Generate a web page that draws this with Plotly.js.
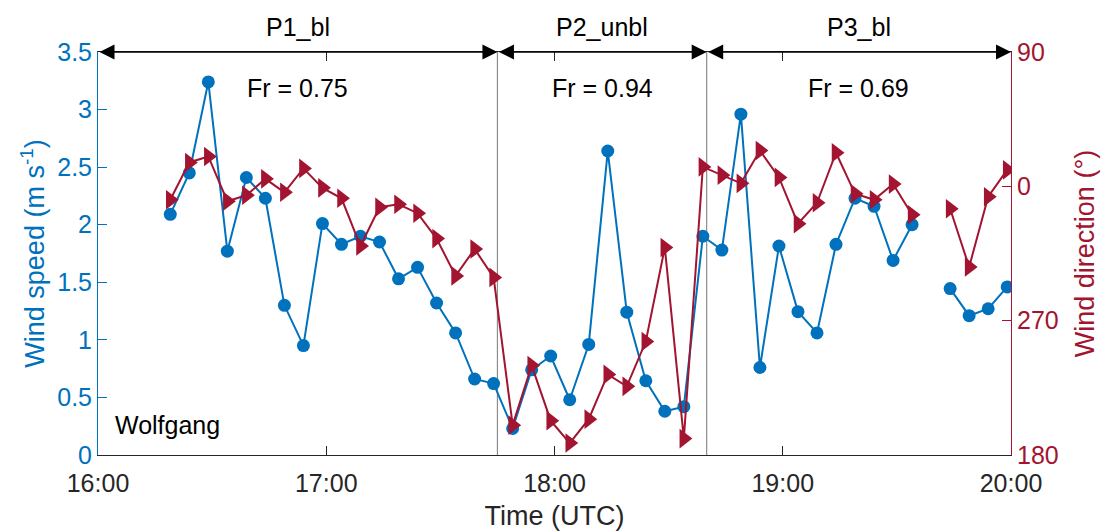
<!DOCTYPE html>
<html>
<head>
<meta charset="utf-8">
<script src="https://cdn.plot.ly/plotly-3.0.1.min.js"></script>
<style>html,body{margin:0;padding:0;background:#fff;}#chart{width:1103px;height:531px;}</style>
</head>
<body>
<div id="chart"></div>
<script>
// ---- data ----
const day = '2000-01-01 ';
const times = ['16:19','16:24','16:29','16:34','16:39','16:44','16:49','16:54','16:59',
  '17:04','17:09','17:14','17:19','17:24','17:29','17:34','17:39','17:44','17:49','17:54','17:59',
  '18:04','18:09','18:14','18:19','18:24','18:29','18:34','18:39','18:44','18:49','18:54','18:59',
  '19:04','19:09','19:14','19:19','19:24','19:29','19:34','19:39','19:44','19:49','19:54','19:59'];
const windSpeed = [2.09,2.45,3.24,1.77,2.41,2.23,1.30,0.95,2.01,
  1.83,1.90,1.85,1.53,1.63,1.32,1.06,0.66,0.62,0.23,0.74,0.86,
  0.48,0.96,2.64,1.24,0.645,0.38,0.42,1.90,1.78,2.96,0.76,1.815,
  1.245,1.06,1.83,2.23,2.16,1.69,2.00,null,1.445,1.21,1.27,1.46];
const windDir = [351,16,20,350,354,5,356,12,359,
  352,320,346,348,342,325,300,318,299,200,240,203,
  188,204,234,226,256,319,191,13,7.5,2,24,6,
  335,349,22.5,355,351,1.5,341,null,345,306,353,11];
const periodBounds = ['16:00','17:45','18:40','20:00'];
const periodLabels = ['P1_bl','P2_unbl','P3_bl'];
const froude = ['0.75','0.94','0.69'];
const xTicks = ['16:00','17:00','18:00','19:00','20:00'];
const dirTickVals = [180,270,360,450];
const dirTickText = ['180','270','0','90'];
const siteLabel = 'Wolfgang';

// ---- helpers ----
const blue = '#0072BD', red = '#A2142F', dark = '#262626';
const FONT = 'Liberation Sans, Arial, Helvetica, sans-serif';
const xs = times.map(t => day + t);
// unwrap direction so that 0..90 sits above 360 (axis runs 180 -> 450)
const dirPlot = windDir.map(d => d === null ? null : (d < 180 ? d + 360 : d));
const toMs = t => new Date(day.replace(' ','T') + t + ':00Z').getTime();
function midTime(a, b){
  const m = (toMs(a) + toMs(b)) / 2;
  return new Date(m).toISOString().replace('T',' ').slice(0,19);
}

const traces = [
  {x: xs, y: windSpeed, type:'scatter', mode:'lines+markers', yaxis:'y',
   line:{color:blue, width:2}, marker:{symbol:'circle', size:13, color:blue},
   connectgaps:false, hoverinfo:'skip', showlegend:false},
  {x: xs, y: dirPlot, type:'scatter', mode:'lines+markers', yaxis:'y2',
   line:{color:red, width:2}, marker:{symbol:'triangle-right', size:17, color:red},
   connectgaps:false, hoverinfo:'skip', showlegend:false}
];

const annotations = [];
const shapes = [];
for (let i = 0; i < periodLabels.length; i++) {
  const a = day + periodBounds[i], b = day + periodBounds[i+1];
  const mid = midTime(periodBounds[i], periodBounds[i+1]);
  annotations.push({x:b, y:3.5, ax:a, ay:3.5, xref:'x', yref:'y', axref:'x', ayref:'y',
    text:'', showarrow:true, arrowside:'end+start', arrowhead:2, startarrowhead:2,
    arrowsize:2, startarrowsize:2, arrowwidth:1.5, arrowcolor:'#000', standoff:0, startstandoff:0});
  annotations.push({x:mid, y:1.061, xref:'x', yref:'paper', text:periodLabels[i], showarrow:false,
    font:{family:FONT, size:25, color:'#000'}, xanchor:'center', yanchor:'middle'});
  annotations.push({x:mid, y:0.911, xref:'x', yref:'paper', text:'Fr = ' + froude[i], showarrow:false,
    font:{family:FONT, size:25, color:'#000'}, xanchor:'center', yanchor:'middle'});
}
annotations.push({x:0.016, y:0.075, xref:'paper', yref:'paper', text:siteLabel, showarrow:false,
  font:{family:FONT, size:25, color:'#000'}, xanchor:'left', yanchor:'middle'});

for (let i = 1; i < periodBounds.length - 1; i++) {
  shapes.push({type:'line', xref:'x', yref:'paper', x0:day+periodBounds[i], x1:day+periodBounds[i],
    y0:0, y1:1, line:{color:'#8c8c8c', width:1.2}, layer:'below'});
}

const layout = {
  width:1103, height:531,
  margin:{l:98, r:92, t:52, b:76, pad:0},
  paper_bgcolor:'#fff', plot_bgcolor:'#fff',
  font:{family:FONT, size:25, color:dark},
  showlegend:false,
  xaxis:{type:'date', range:[day+xTicks[0], day+xTicks[xTicks.length-1]],
    tickvals:xTicks.map(t => day+t), ticktext:xTicks,
    ticks:'inside', ticklen:9, tickwidth:1, tickcolor:dark, ticklabelstandoff:6,
    showline:true, linecolor:dark, linewidth:1, mirror:'ticks',
    showgrid:false, zeroline:false, automargin:false,
    tickfont:{family:FONT, size:25, color:dark},
    title:{text:'Time (UTC)', font:{family:FONT, size:27, color:dark}, standoff:12}},
  yaxis:{range:[0,3.5], tickvals:[0,0.5,1,1.5,2,2.5,3,3.5], ticktext:['0','0.5','1','1.5','2','2.5','3','3.5'],
    ticks:'inside', ticklen:9, tickwidth:1, tickcolor:blue,
    showline:true, linecolor:blue, linewidth:1,
    showgrid:false, zeroline:false, automargin:false,
    tickfont:{family:FONT, size:25, color:blue},
    title:{text:'Wind speed (m s<sup>-1</sup>)', font:{family:FONT, size:27, color:blue}, standoff:4}},
  yaxis2:{overlaying:'y', side:'right', range:[180,450], tickvals:dirTickVals, ticktext:dirTickText,
    ticks:'inside', ticklen:9, tickwidth:1, tickcolor:red,
    showline:true, linecolor:red, linewidth:1,
    showgrid:false, zeroline:false, automargin:false,
    tickfont:{family:FONT, size:25, color:red},
    title:{text:'Wind direction (°)', font:{family:FONT, size:27, color:red}, standoff:17}},
  annotations:annotations,
  shapes:shapes
};

Plotly.newPlot('chart', traces, layout, {staticPlot:true, displayModeBar:false});
</script>
</body>
</html>
